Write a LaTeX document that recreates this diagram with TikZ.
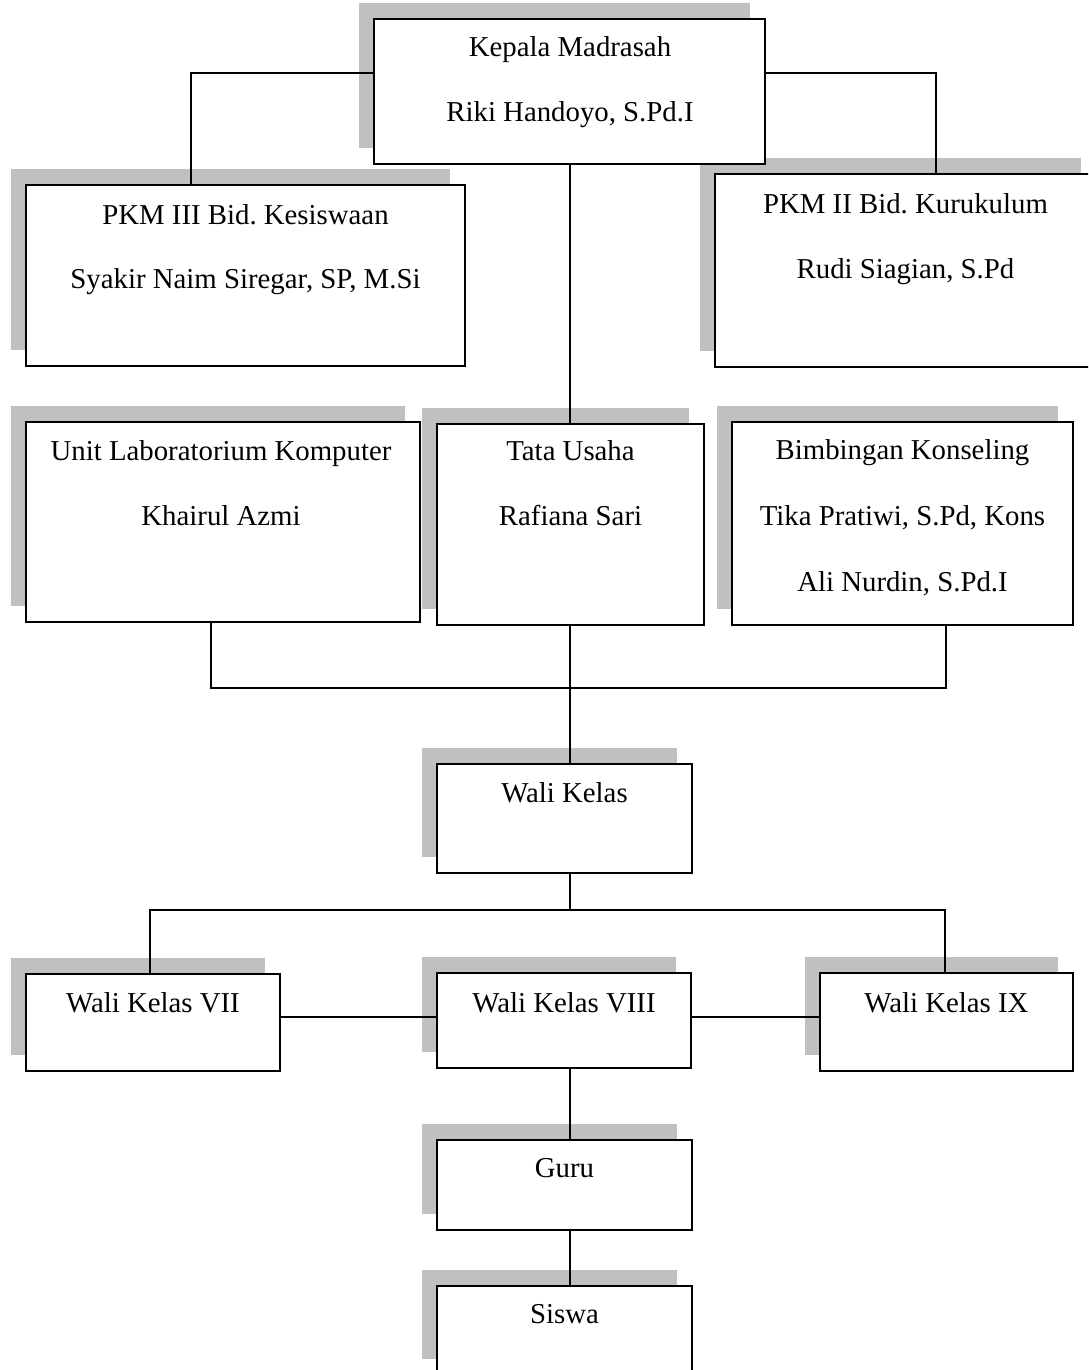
\documentclass[tikz,border=0pt]{standalone}
\usepackage{fontspec}
\setmainfont{Liberation Serif}
\frenchspacing
\usetikzlibrary{shadows}
\definecolor{shadowgray}{RGB}{192,192,192}
\tikzset{
  orgbox/.style={draw=black, line width=1.9pt, fill=white, rectangle, inner sep=0pt,
    general shadow={shadow xshift=-15.5pt, shadow yshift=16pt, fill=shadowgray}},
  lbl/.style={anchor=base, inner sep=0pt, font=\fontsize{28.8}{34}\selectfont},
  conn/.style={line width=1.7pt, draw=black}
}
\newcommand{\orgbox}[5]{% name, left, top, right, bottom
  \node[orgbox, minimum width={(#4-#2)*1pt}, minimum height={(#5-#3)*1pt}] (#1) at ({(#2+#4)/2},{(#3+#5)/2}) {};}
\begin{document}
\begin{tikzpicture}[x=1pt,y=-1pt]
\useasboundingbox (0,0) rectangle (1088,1370);
\clip (0,0) rectangle (1088,1370);
% boxes
\orgbox{pkm3}{26}{185}{465}{366}
\orgbox{pkm2}{715}{174}{1096}{367}
\orgbox{kepala}{374}{19}{765}{164}
\orgbox{lab}{26}{422}{420}{622}
\orgbox{tu}{437}{424}{704}{625}
\orgbox{bk}{732}{422}{1073}{625}
\orgbox{wk}{437}{764}{692}{873}
\orgbox{wk7}{26}{974}{280}{1071}
\orgbox{wk8}{437}{973}{691}{1068}
\orgbox{wk9}{820}{973}{1073}{1071}
\orgbox{guru}{437}{1140}{692}{1230}
\orgbox{siswa}{437}{1286}{692}{1375}
% texts
\node[lbl] (t1a) at (570,57) {Kepala Madrasah};
\node[lbl] (t1b) at (570,122) {Riki Handoyo, S.Pd.I};
\node[lbl] (t2a) at (245.5,224) {PKM III Bid. Kesiswaan};
\node[lbl] (t2b) at (245.5,288) {Syakir Naim Siregar, SP, M.Si};
\node[lbl] (t3a) at (905.5,213) {PKM II Bid. Kurukulum};
\node[lbl] (t3b) at (905.5,278) {Rudi Siagian, S.Pd};
\node[lbl] (t4a) at (221,460) {Unit Laboratorium Komputer};
\node[lbl] (t4b) at (221,525) {Khairul Azmi};
\node[lbl] (t5a) at (570.5,460) {Tata Usaha};
\node[lbl] (t5b) at (570.5,525) {Rafiana Sari};
\node[lbl] (t6a) at (902.5,459) {Bimbingan Konseling};
\node[lbl] (t6b) at (902.5,525) {Tika Pratiwi, S.Pd, Kons};
\node[lbl] (t6c) at (902.5,591) {Ali Nurdin, S.Pd.I};
\node[lbl] (t7) at (564.5,802) {Wali Kelas};
\node[lbl] (t8) at (153,1012) {Wali Kelas VII};
\node[lbl] (t9) at (564,1012) {Wali Kelas VIII};
\node[lbl] (t10) at (946.5,1012) {Wali Kelas IX};
\node[lbl] (t11) at (564.5,1177) {Guru};
\node[lbl] (t12) at (564.5,1323) {Siswa};
% connectors
\draw[conn] (kepala.west |- 0,73) -| (pkm3.north -| 191,0);
\draw[conn] (kepala.east |- 0,73) -| (pkm2.north -| 936,0);
\draw[conn] (kepala.south -| 570,0) -- (tu.north -| 570,0);
\coordinate (hub1) at (570,688);
\draw[conn] (lab.south -| 211,0) |- (hub1) -| (bk.south -| 946,0);
\draw[conn] (tu.south -| 570,0) -- (wk.north -| 570,0);
\coordinate (hub2) at (570,910);
\draw[conn] (wk.south -| 570,0) -- (hub2);
\draw[conn] (wk7.north -| 150,0) |- (hub2) -| (wk9.north -| 945,0);
\draw[conn] (wk7.east |- 0,1017) -- (wk8.west |- 0,1017);
\draw[conn] (wk8.east |- 0,1017) -- (wk9.west |- 0,1017);
\draw[conn] (wk8.south -| 570,0) -- (guru.north -| 570,0);
\draw[conn] (guru.south -| 570,0) -- (siswa.north -| 570,0);
\end{tikzpicture}
\end{document}
